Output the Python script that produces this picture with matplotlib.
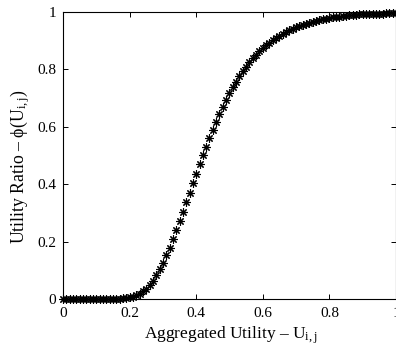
import numpy as np
import matplotlib
matplotlib.use("Agg")
import matplotlib.pyplot as plt

# ---------------- Dados ----------------
utility = np.round(np.arange(0, 101) * 0.01, 2)

ratio_low = [0.000] * 16  # 0.00 .. 0.15
ratio_rest = [
    0.001, 0.001, 0.002, 0.003, 0.005, 0.008, 0.012, 0.018, 0.026, 0.036,   # 0.16 .. 0.25
    0.048, 0.063, 0.082, 0.103, 0.126, 0.152, 0.179, 0.208, 0.239, 0.271,   # 0.26 .. 0.35
    0.304, 0.337, 0.370, 0.403, 0.436, 0.469, 0.501, 0.531, 0.560, 0.589,   # 0.36 .. 0.45
    0.617, 0.643, 0.669, 0.693, 0.716, 0.737, 0.757, 0.776, 0.793, 0.809,   # 0.46 .. 0.55
    0.824, 0.838, 0.851, 0.863, 0.874, 0.884, 0.893, 0.902, 0.910, 0.917,   # 0.56 .. 0.65
    0.924, 0.930, 0.936, 0.941, 0.946, 0.951, 0.955, 0.959, 0.962, 0.966,   # 0.66 .. 0.75
    0.969, 0.972, 0.974, 0.977, 0.979, 0.981, 0.983, 0.984, 0.986, 0.987,   # 0.76 .. 0.85
    0.988, 0.989, 0.990, 0.991, 0.992, 0.993, 0.993, 0.993, 0.994, 0.994,   # 0.86 .. 0.95
    0.994, 0.995, 0.995, 0.995, 0.996,                                      # 0.96 .. 1.00
]
ratio = np.array(ratio_low + ratio_rest)

x_ticks = [0, 0.2, 0.4, 0.6, 0.8, 1]
x_tick_labels = ["0", "0.2", "0.4", "0.6", "0.8", "1"]
y_ticks = [0, 0.2, 0.4, 0.6, 0.8, 1]
y_tick_labels = ["0", "0.2", "0.4", "0.6", "0.8", "1"]

# ---------------- Estilo ----------------
plt.rcParams["font.family"] = ["Liberation Serif", "DejaVu Serif"]
plt.rcParams["mathtext.fontset"] = "custom"
plt.rcParams["mathtext.rm"] = "Liberation Serif"
plt.rcParams["mathtext.it"] = "Liberation Serif:italic"

fig = plt.figure(figsize=(3.96, 3.61), dpi=100)
ax = fig.add_axes([0.159, 0.172, 0.841, 0.795])

ax.plot(utility, ratio, linestyle="none", marker=(8, 2, 0), markersize=6,
        markeredgewidth=0.8, color="black", clip_on=False, zorder=3)

ax.set_xlim(0, 1)
ax.set_ylim(0, 1)
ax.set_xticks(x_ticks)
ax.set_xticklabels(x_tick_labels)
ax.set_yticks(y_ticks)
ax.set_yticklabels(y_tick_labels)
ax.tick_params(direction="in", length=3.5, width=0.7, top=True, right=True,
               labelsize=11)
ax.tick_params(axis="x", pad=6)
ax.tick_params(axis="y", pad=5)
for s in ax.spines.values():
    s.set_linewidth(0.8)

ax.set_xlabel(r"Aggregated Utility – U$_{\mathrm{i,j}}$", fontsize=12.5)
ax.set_ylabel(r"Utility Ratio – ϕ(U$_{\mathrm{i,j}}$)", fontsize=12.8)
ax.xaxis.set_label_coords(0.505, -0.088)
ax.yaxis.set_label_coords(-0.093, 0.46)

fig.savefig("out.png", dpi=100)
